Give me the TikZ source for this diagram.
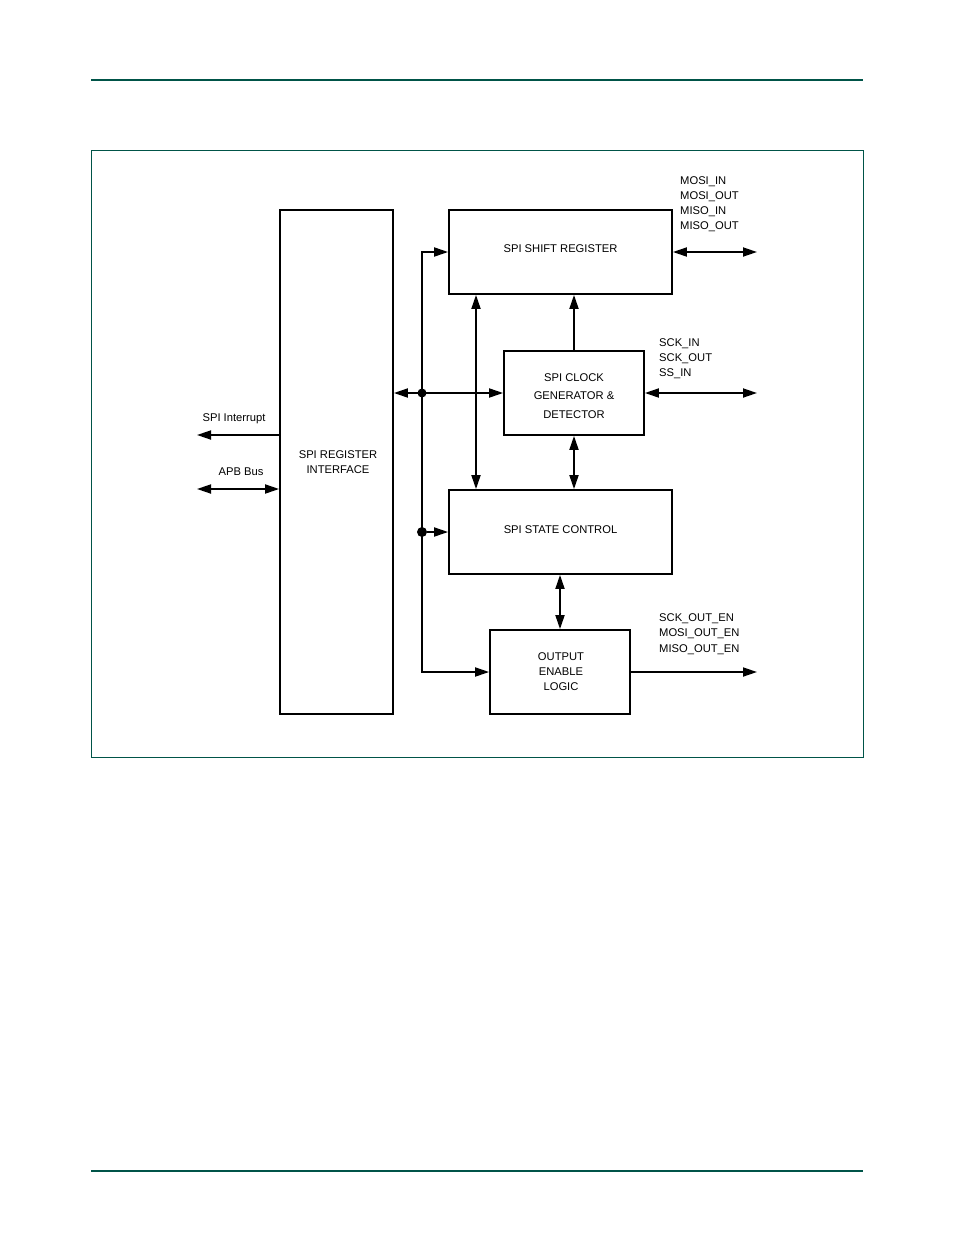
\documentclass[tikz,border=0pt]{standalone}
\usepackage{fontspec}
\setmainfont{Liberation Sans}
\usetikzlibrary{arrows.meta}
\definecolor{frameteal}{RGB}{0,84,72}
\begin{document}
\begin{tikzpicture}[x=1pt,y=-1pt,
  >={Triangle[length=14pt,width=9pt]},
  box/.style={draw,line width=1.8pt,rectangle,inner sep=0pt,align=center,
    font=\fontsize{11.2}{15}\selectfont},
  wire/.style={line width=1.8pt},
  lbl/.style={font=\fontsize{11.2}{15.2}\selectfont,inner sep=0pt,align=left},
  dot/.style={circle,fill=black,inner sep=0pt,minimum size=10pt}]
\useasboundingbox (0,0) rectangle (954,1235);
% page rules and frame
\draw[frameteal,line width=1.5pt] (91,80) -- (863,80);
\draw[frameteal,line width=1.5pt] (91,1171) -- (863,1171);
\draw[frameteal,line width=1pt] (91,150) rectangle (863,757);
% blocks
\node[box,minimum width=113pt,minimum height=504pt] (reg) at (336.5,462) {\hspace*{3pt}SPI REGISTER\\\hspace*{3pt}INTERFACE};
\node[box,minimum width=223pt,minimum height=84pt] (sr) at (560.5,252) {\raisebox{3pt}[\height][\depth]{SPI SHIFT REGISTER}};
\node[box,minimum width=140pt,minimum height=84pt,font=\fontsize{11.2}{18.5}\selectfont] (clk) at (574,393) {\raisebox{-3pt}[\height][\depth]{\begin{tabular}{@{}c@{}}SPI CLOCK\\GENERATOR \&\\DETECTOR\end{tabular}}};
\node[box,minimum width=223pt,minimum height=84pt] (sc) at (560.5,532) {\raisebox{2pt}[\height][\depth]{SPI STATE CONTROL}};
\node[box,minimum width=140pt,minimum height=84pt] (oe) at (560,672) {\hspace*{2pt}OUTPUT\\\hspace*{2pt}ENABLE\\\hspace*{2pt}LOGIC};
% helper coordinates
\coordinate (bt) at (422,252);
\coordinate (xa) at (476,0);
\coordinate (xb) at (574,0);
\coordinate (xc) at (560,0);
\coordinate (srout) at (757,252);
\coordinate (clkout) at (757,393);
\coordinate (oeout) at (757,672);
\coordinate (irq) at (197,435);
\coordinate (apb) at (197,489);
% internal bus
\draw[wire,<->] (oe.west) -| (bt) -- (sr.west);
\draw[wire,<->] (reg.east |- clk.west) -- (clk.west);
\node[dot,minimum size=9pt] (j1) at (422,393) {};
\node[dot] (j2) at (422,532) {};
\draw[wire,->] (j2) -- (sc.west);
% verticals
\draw[wire,<->] (sr.south -| xa) -- (sc.north -| xa);
\draw[wire,->] (clk.north) -- (sr.south -| xb);
\draw[wire,<->] (clk.south) -- (sc.north -| xb);
\draw[wire,<->] (sc.south -| xc) -- (oe.north);
% outputs
\draw[wire,<->] (sr.east) -- (srout);
\draw[wire,<->] (clk.east) -- (clkout);
\draw[wire,->] (oe.east) -- (oeout);
\draw[wire,->] (reg.west |- irq) -- (irq);
\draw[wire,<->] (apb) -- (reg.west |- apb);
% labels
\node[lbl] (lirq) at (234,419) {SPI Interrupt};
\node[lbl] (lapb) at (241,472) {APB Bus};
\node[lbl,anchor=west] (lsr) at (680,204) {MOSI\_IN\\MOSI\_OUT\\MISO\_IN\\MISO\_OUT};
\node[lbl,anchor=west] (lclk) at (659,358.5) {SCK\_IN\\SCK\_OUT\\SS\_IN};
\node[lbl,anchor=west] (loe) at (659,634) {SCK\_OUT\_EN\\MOSI\_OUT\_EN\\MISO\_OUT\_EN};
\end{tikzpicture}
\end{document}
